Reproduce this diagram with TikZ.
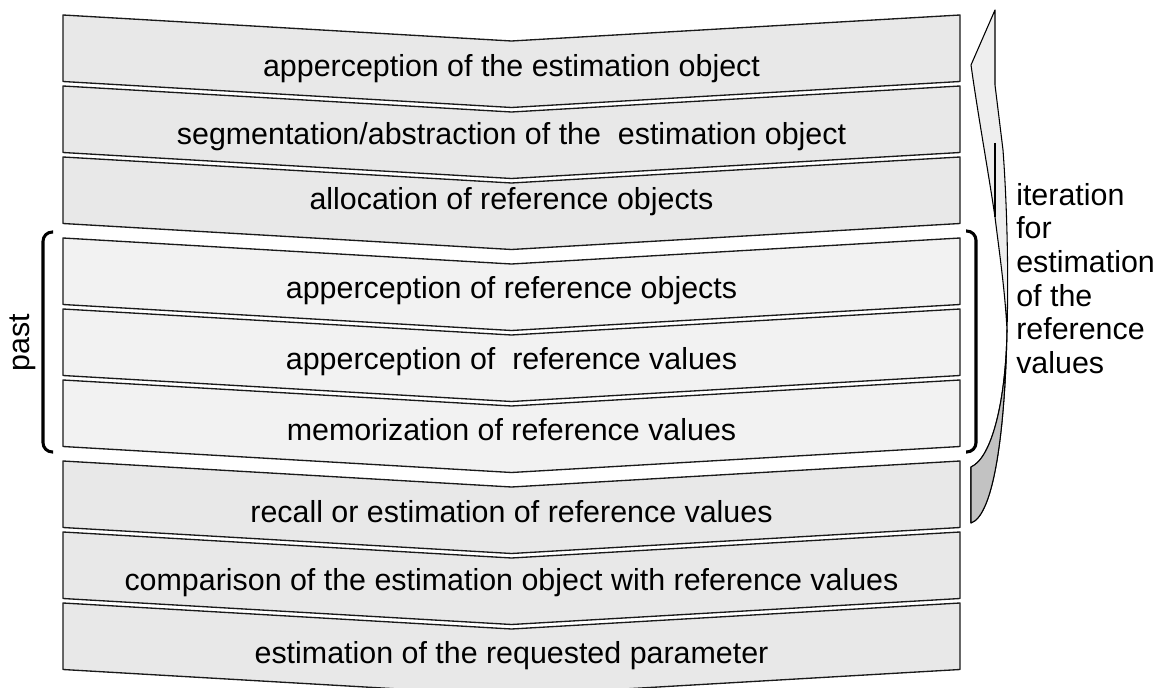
\documentclass[tikz,border=0pt]{standalone}
\usepackage{fontspec}
\setmainfont{Liberation Sans}
\definecolor{bandA}{HTML}{E8E8E8}
\definecolor{bandB}{HTML}{F2F2F2}
\definecolor{arrowlight}{HTML}{EEEEEE}
\definecolor{arrowdark}{HTML}{C2C2C2}
\definecolor{edge}{HTML}{1A1A1A}
\tikzset{
  bandshape/.style={draw=edge, line width=1pt, line join=round},
  lbl/.style={inner sep=0pt, anchor=base, font=\fontsize{22.8}{25.2}\selectfont},
  bracket/.style={draw=black, line width=2.3pt, rounded corners=7pt},
  ribbon/.style={draw=black, line width=0.8pt, line join=round},
}
\begin{document}
\begin{tikzpicture}[x=0.75pt, y=-0.75pt]
\clip (0,0) rectangle (1161,688);
\fill[white] (0,0) rectangle (1161,688);
% bands
\foreach \t/\c in {15/bandA, 86/bandA, 157/bandA, 238/bandB, 309/bandB, 380/bandB, 461/bandA, 532/bandA, 603/bandA}
  \draw[bandshape, fill=\c] (63,\t) -- (511.5,\t+26) -- (960,\t) -- (960,\t+66.5) -- (511.5,\t+92.5) -- (63,\t+66.5) -- cycle;
% band texts
\node[lbl] (b1) at (511.5,77) {apperception of the estimation object};
\node[lbl] (b2) at (511.5,145) {segmentation/abstraction of the~ estimation object};
\node[lbl] (b3) at (511.5,210) {allocation of reference objects};
\node[lbl] (b4) at (511.5,299) {apperception of reference objects};
\node[lbl] (b5) at (511.5,369) {apperception of~ reference values};
\node[lbl] (b6) at (511.5,440) {memorization of reference values};
\node[lbl] (b7) at (511.5,522) {recall or estimation of reference values};
\node[lbl] (b8) at (511.5,590) {comparison of the estimation object with reference values};
\node[lbl] (b9) at (511.5,663) {estimation of the requested parameter};
% brackets
\draw[bracket] (53,232) -- (43,232) -- (43,452) -- (53,452);
\draw[bracket] (966,231) -- (976,231) -- (976,452) -- (966,452);
\node[lbl, rotate=90, anchor=center] (past) at (23,343) {past};
% iteration arrow
\draw[ribbon, fill=arrowlight] (995,10) -- (971,65)
   .. controls (978,115) and (988,170) .. (995,217)
   .. controls (999,250) and (1005,290) .. (1007,330)
   .. controls (1006,400) and (992,458) .. (971,467)
   -- (971,523)
   .. controls (994,515) and (1005,430) .. (1007,330)
   .. controls (1009,260) and (1006,190) .. (1003,150)
   -- (995,85) -- cycle;
\draw[ribbon, fill=arrowdark] (1007,330)
   .. controls (1006,400) and (992,458) .. (971,467)
   -- (971,523)
   .. controls (994,515) and (1005,430) .. (1007,330) -- cycle;
\draw[ribbon] (995,143) -- (995,217);
\node[inner sep=0pt, anchor=north west, align=left, font=\fontsize{22.8}{25.2}\selectfont] (iter) at (1016,183)
  {iteration\\for\\estimation\\of the\\reference\\values};
\end{tikzpicture}
\end{document}
